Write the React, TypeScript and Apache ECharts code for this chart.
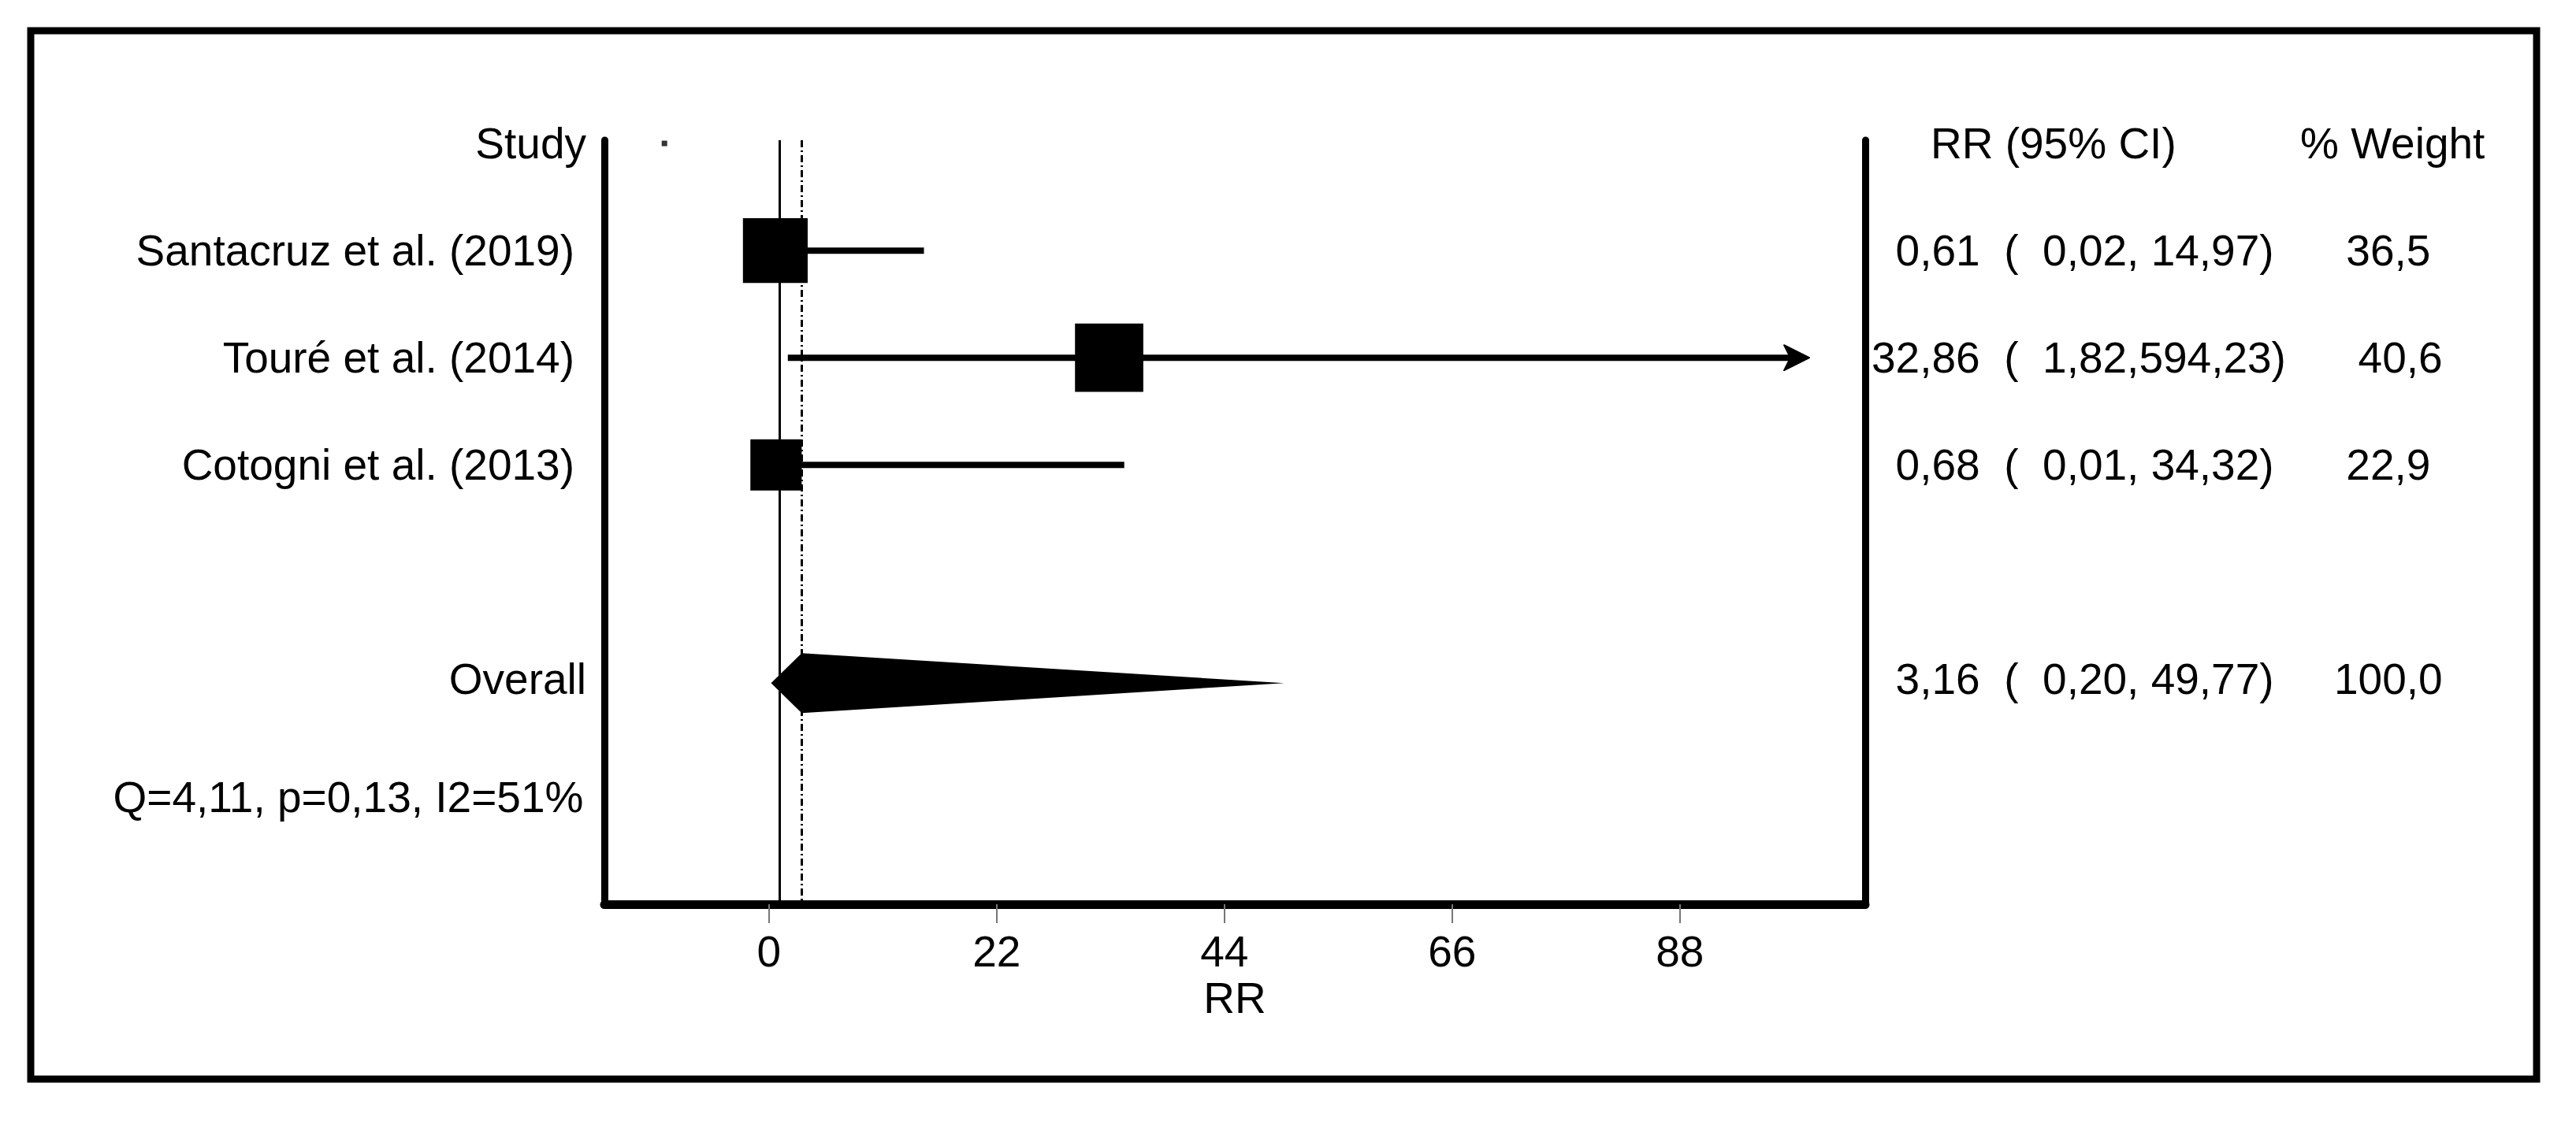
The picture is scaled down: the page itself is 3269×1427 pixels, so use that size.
import React, { useEffect, useRef } from "react";
import * as echarts from "echarts";

// ---------- data ----------
const studyNames = ["Santacruz et al. (2019)", "Touré et al. (2014)", "Cotogni et al. (2013)"];
const studyRR = [0.61, 32.86, 0.68];
const studyLow = [0.02, 1.82, 0.01];
const studyHigh = [14.97, 594.23, 34.32];
const studyWeight = [36.5, 40.6, 22.9];
const studyRows = [1, 2, 3];

const overallLabel = "Overall";
const overallValues = [3.16, 0.2, 49.77]; // RR, low, high
const overallWeight = 100.0;
const overallRow = 5;

const headerRow = 0;
const headerLabels = ["Study", "RR (95% CI)", "% Weight"];
const heterogeneityText = "Q=4,11, p=0,13, I2=51%";
const heterogeneityRow = 6.1;

const xTicks = [0, 22, 44, 66, 88];
const nullValue = 1;
const headerDot = [-10.1, 0];

// axis ranges
const X_MIN = -15.9;
const X_MAX = 105.9;
const CLIP_MAX = 100.5;
const Y_MIN = -0.03;
const Y_MAX = 7.1;

// ---------- style ----------
const FONT = '"Liberation Sans", Arial, sans-serif';
const FS = 55;
const SQUARE_SCALE = 13.6;
const DIAMOND_HALF = 38;

const fmt2 = (v: number) => v.toFixed(2).replace(".", ",");
const fmt1 = (v: number) => v.toFixed(1).replace(".", ",");
const pad2 = (s: string, n: number) => "  ".repeat(Math.max(0, n - s.length)) + s;
const pad1 = (s: string, n: number) => " ".repeat(Math.max(0, n - s.length)) + s;
const statText = (rr: number, lo: number, hi: number, w: number) =>
  pad2(fmt2(rr), 5) + "  (  " + fmt2(lo) + "," + pad1(fmt2(hi), 6) + ")     " + pad1(fmt1(w), 5);

type RowText = { row: number; left: string; kind: "study" | "head" | "overall" | "het"; stat?: string };

const textRows: RowText[] = [
  { row: headerRow, left: headerLabels[0], kind: "head" },
  ...studyNames.map((n, i) => ({
    row: studyRows[i],
    left: n,
    kind: "study" as const,
    stat: statText(studyRR[i], studyLow[i], studyHigh[i], studyWeight[i]),
  })),
  {
    row: overallRow,
    left: overallLabel,
    kind: "overall",
    stat: statText(overallValues[0], overallValues[1], overallValues[2], overallWeight),
  },
  { row: heterogeneityRow, left: heterogeneityText, kind: "het" },
];

export default function App() {
  const ref = useRef<HTMLDivElement>(null);
  useEffect(() => {
    document.body.style.margin = "0";
    if (!ref.current) return;
    const chart = echarts.init(ref.current, undefined, { renderer: "svg" });

    const txt = (text: string, x: number, y: number, align: string) => ({
      type: "text",
      x,
      y,
      style: { text, fill: "#000", fontSize: FS, fontFamily: FONT, align, verticalAlign: "middle" },
    });

    const yAxisBase = {
      type: "value",
      inverse: true,
      min: Y_MIN,
      max: Y_MAX,
      axisLine: { show: true, onZero: false, lineStyle: { color: "#000", width: 9 } },
      axisTick: { show: false },
      axisLabel: { show: false },
      splitLine: { show: false },
    };

    const option: any = {
      animation: false,
      backgroundColor: "#fff",
      graphic: [
        {
          type: "rect",
          shape: { x: 39, y: 39, width: 3180, height: 1331 },
          style: { fill: "none", stroke: "#000", lineWidth: 9 },
          silent: true,
        },
      ],
      grid: { left: 767, right: 902, top: 178, bottom: 279 },
      xAxis: {
        type: "value",
        position: "bottom",
        min: X_MIN,
        max: X_MAX,
        name: "RR",
        nameLocation: "middle",
        nameGap: 78,
        nameTextStyle: { fontSize: FS, color: "#000", fontFamily: FONT },
        axisLine: { show: true, onZero: false, lineStyle: { color: "#000", width: 11 } },
        axisTick: { show: true, length: 24, customValues: xTicks, lineStyle: { color: "#777", width: 2 } },
        axisLabel: { customValues: xTicks, fontSize: FS, color: "#000", fontFamily: FONT, margin: 32 },
        splitLine: { show: false },
      },
      yAxis: [
        { ...yAxisBase, position: "left" },
        { ...yAxisBase, position: "right" },
      ],
      series: [
        {
          type: "line",
          data: [],
          z: 1,
          markLine: {
            silent: true,
            symbol: "none",
            label: { show: false },
            data: [
              { xAxis: nullValue, lineStyle: { type: "solid", width: 3, color: "#000" } },
              { xAxis: overallValues[0], lineStyle: { type: [9, 4, 2, 4], width: 3, color: "#000" } },
            ],
          },
        },
        {
          type: "scatter",
          data: [headerDot],
          symbol: "rect",
          symbolSize: 7,
          itemStyle: { color: "#000" },
          z: 2,
        },
        {
          type: "custom",
          z: 3,
          clip: false,
          encode: { x: [0, 1, 2], y: 3 },
          data: studyNames.map((_, i) => [studyLow[i], studyHigh[i], studyRR[i], studyRows[i], studyWeight[i]]),
          renderItem: (params: any, api: any) => {
            const lo = api.value(0);
            const hi = api.value(1);
            const est = api.value(2);
            const row = api.value(3);
            const w = api.value(4);
            const clipped = hi > CLIP_MAX;
            const p1 = api.coord([lo, row]);
            const p2 = api.coord([Math.min(hi, CLIP_MAX), row]);
            const pc = api.coord([est, row]);
            const side = SQUARE_SCALE * Math.sqrt(w);
            const children: any[] = [
              {
                type: "line",
                shape: { x1: p1[0], y1: p1[1], x2: clipped ? p2[0] - 18 : p2[0], y2: p2[1] },
                style: { stroke: "#000", lineWidth: 8 },
              },
            ];
            if (clipped) {
              children.push({
                type: "polygon",
                shape: {
                  points: [
                    [p2[0], p2[1]],
                    [p2[0] - 32, p2[1] - 16],
                    [p2[0] - 24, p2[1]],
                    [p2[0] - 32, p2[1] + 16],
                  ],
                },
                style: { fill: "#000", stroke: "#000", lineWidth: 2, lineJoin: "round" },
              });
            }
            children.push({
              type: "rect",
              shape: { x: pc[0] - side / 2, y: pc[1] - side / 2, width: side, height: side },
              style: { fill: "#000" },
            });
            return { type: "group", children };
          },
        },
        {
          type: "custom",
          z: 3,
          clip: false,
          encode: { x: [0, 1, 2], y: 3 },
          data: [[overallValues[1], overallValues[2], overallValues[0], overallRow]],
          renderItem: (params: any, api: any) => {
            const row = api.value(3);
            const pl = api.coord([api.value(0), row]);
            const ph = api.coord([api.value(1), row]);
            const pe = api.coord([api.value(2), row]);
            const dy = 5;
            return {
              type: "polygon",
              shape: {
                points: [
                  [pl[0], pl[1] + dy],
                  [pe[0], pe[1] - DIAMOND_HALF + dy],
                  [ph[0], ph[1] + dy],
                  [pe[0], pe[1] + DIAMOND_HALF + dy],
                ],
              },
              style: { fill: "#000" },
            };
          },
        },
        {
          type: "custom",
          z: 4,
          clip: false,
          encode: { x: 0, y: 1 },
          data: textRows.map((r, i) => [0, r.row, i]),
          renderItem: (params: any, api: any) => {
            const r = textRows[params.dataIndex];
            const y = api.coord([0, api.value(1)])[1];
            const children: any[] = [];
            if (r.kind === "head") {
              children.push(txt(r.left, 744, y, "right"));
              children.push(txt(headerLabels[1], 2450, y, "left"));
              children.push(txt(headerLabels[2], 2919, y, "left"));
            } else if (r.kind === "overall") children.push(txt(r.left, 744, y, "right"));
            else if (r.kind === "study") children.push(txt(r.left, 729, y, "right"));
            else children.push(txt(r.left, 442, y, "center"));
            if (r.stat) children.push(txt(r.stat, 2375, y, "left"));
            return { type: "group", children };
          },
        },
      ],
    };
    chart.setOption(option);
    return () => chart.dispose();
  }, []);
  return <div ref={ref} style={{ width: 3269, height: 1427 }} />;
}
